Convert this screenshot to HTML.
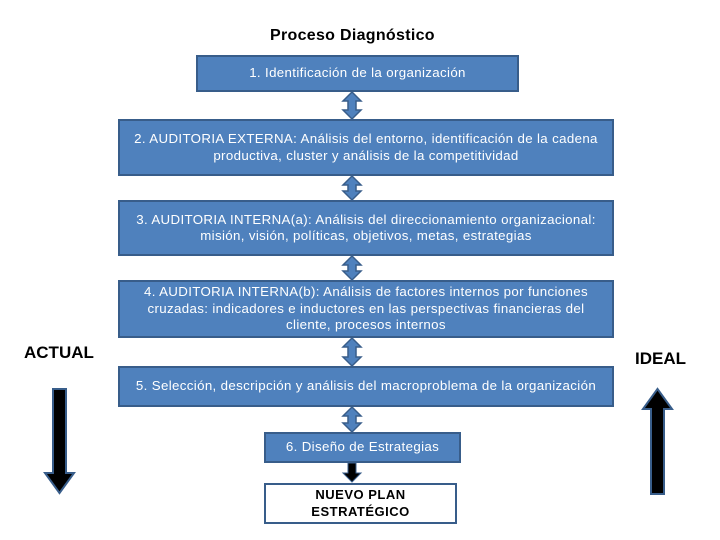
<!DOCTYPE html>
<html><head><style>
body{margin:0;width:720px;height:540px;background:#fff;position:relative;overflow:hidden;font-family:"Liberation Sans",Arial,sans-serif}
.b{position:absolute;background:#4f81bd;border:2px solid #385d8a;box-sizing:border-box;color:#fff;font-size:13.3px;letter-spacing:0.35px;text-align:center;display:flex;align-items:center;justify-content:center;line-height:16.5px;white-space:nowrap}
.t{position:absolute;font-weight:bold;color:#000}
</style></head><body>
<div class="t" style="left:270px;top:27px;font-size:16px;letter-spacing:0.3px">Proceso Diagnóstico</div>
<div class="b" style="left:196px;top:55px;width:323px;height:37px">1. Identificación de la organización</div>
<div class="b" style="left:118px;top:119px;width:496px;height:57px">2. AUDITORIA EXTERNA: Análisis del entorno, identificación de la cadena<br>productiva, cluster y análisis de la competitividad</div>
<div class="b" style="left:118px;top:200px;width:496px;height:56px">3. AUDITORIA INTERNA(a): Análisis del direccionamiento organizacional:<br>misión, visión, políticas, objetivos, metas, estrategias</div>
<div class="b" style="left:118px;top:280px;width:496px;height:58px">4. AUDITORIA INTERNA(b): Análisis de factores internos por funciones<br>cruzadas: indicadores e inductores en las perspectivas financieras del<br>cliente, procesos internos</div>
<div class="b" style="left:118px;top:366px;width:496px;height:41px">5. Selección, descripción y análisis del macroproblema de la organización</div>
<div class="b" style="left:264px;top:432px;width:197px;height:31px">6. Diseño de Estrategias</div>
<div class="b" style="left:264px;top:483px;width:193px;height:41px;background:#fff;color:#000;font-weight:bold;font-size:13px;letter-spacing:0.5px">NUEVO PLAN<br>ESTRATÉGICO</div>
<div class="t" style="left:24px;top:343px;font-size:17px">ACTUAL</div>
<div class="t" style="left:635px;top:349px;font-size:17px">IDEAL</div>
<svg width="720" height="540" style="position:absolute;left:0;top:0">
<g fill="#4f81bd" stroke="#385d8a" stroke-width="1.5">
<path d="M352 92 L361 101 L356 101 L356 110 L361 110 L352 119 L343 110 L348 110 L348 101 L343 101 Z"/>
<path d="M352 176 L361 185 L356 185 L356 191 L361 191 L352 200 L343 191 L348 191 L348 185 L343 185 Z"/>
<path d="M352 256 L361 265 L356 265 L356 271 L361 271 L352 280 L343 271 L348 271 L348 265 L343 265 Z"/>
<path d="M352 338 L361 347 L356 347 L356 357 L361 357 L352 366 L343 357 L348 357 L348 347 L343 347 Z"/>
<path d="M352 407 L361 416 L356 416 L356 423 L361 423 L352 432 L343 423 L348 423 L348 416 L343 416 Z"/>
</g>
<path d="M348 463 L356 463 L356 473 L361 473 L352 482 L343 473 L348 473 Z" fill="#000" stroke="#385d8a"/>
<path d="M53 389 L66 389 L66 473 L74 473 L59.5 493 L45 473 L53 473 Z" fill="#000" stroke="#385d8a" stroke-width="2"/>
<path d="M651 494 L664 494 L664 409 L672 409 L657.5 389 L643 409 L651 409 Z" fill="#000" stroke="#385d8a" stroke-width="2"/>
</svg>
</body></html>
